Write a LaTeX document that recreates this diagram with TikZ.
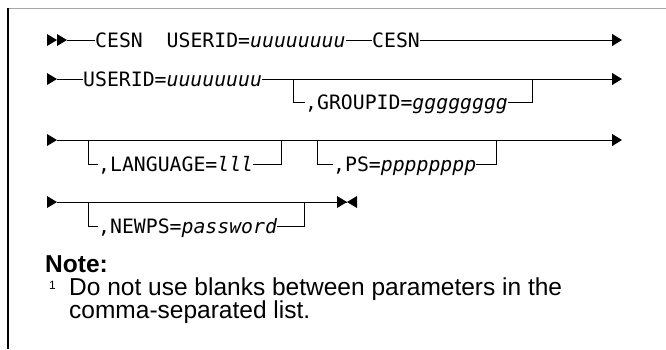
\documentclass[tikz,border=0pt]{standalone}
\usepackage{fontspec}
\setmonofont{DejaVu Sans Mono}[ItalicFont={DejaVu Sans Mono Oblique}]
\setsansfont{Liberation Sans}
\usetikzlibrary{arrows.meta}

\begin{document}
\begin{tikzpicture}[x=1pt,y=-1pt,
  rail/.style={line width=0.9pt},
  endtip/.style={-{Triangle[length=10pt,width=12pt]}},
  tok/.style={font=\ttfamily\fontsize{19.8}{22}\selectfont,inner sep=0pt,anchor=west,text height=14.4pt,text depth=0pt},
  notehead/.style={font=\sffamily\bfseries\fontsize{24.5}{27}\selectfont,inner sep=0pt,anchor=base west},
  notetxt/.style={font=\sffamily\fontsize{24.5}{27}\selectfont,inner sep=0pt,anchor=base west},
  pics/fwd/.style={code={\fill (-10,-6) -- (0,0) -- (-10,6) -- cycle;}},
  pics/bwd/.style={code={\fill (10,-6) -- (0,0) -- (10,6) -- cycle;}}]
  \useasboundingbox (0,0) rectangle (666,349);
  % frame
  \draw[gray!70,line width=1pt] (8,8) -- (666,8);
  \draw[line width=1.6pt] (8,8) -- (8,349);

  % row 1
  \coordinate (r1s) at (67,40);
  \coordinate (r1e) at (622,40);
  \pic at (57,40) {fwd};
  \pic at (r1s) {fwd};
  \node[tok] (cesn) at (95,40) {CESN\ \ USERID=\textit{uuuuuuuu}};
  \node[tok] (cesn2) at (372,40) {CESN};
  \draw[rail] (r1s) -- (cesn);
  \draw[rail] (cesn) -- (cesn2);
  \draw[rail,endtip] (cesn2) -- (r1e);

  % row 2
  \coordinate (r2s) at (57,79);
  \coordinate (r2e) at (622,79);
  \pic at (r2s) {fwd};
  \node[tok] (uid) at (83,79) {USERID=\textit{uuuuuuuu}};
  \draw[rail] (r2s) -- (uid);
  \draw[rail,endtip] (uid) -- (r2e);
  \coordinate (g1) at (293,79);
  \coordinate (g2) at (532,79);
  \node[tok] (grp) at (305,102) {,GROUPID=\textit{gggggggg}};
  \draw[rail] (g1) |- (grp);
  \draw[rail] (grp) -| (g2);

  % row 3
  \coordinate (r3s) at (57,140);
  \coordinate (r3e) at (622,140);
  \pic at (r3s) {fwd};
  \draw[rail,endtip] (r3s) -- (r3e);
  \coordinate (l1) at (88,140);
  \coordinate (l2) at (281,140);
  \node[tok] (lang) at (98,164) {,LANGUAGE=\textit{lll}};
  \draw[rail] (l1) |- (lang);
  \draw[rail] (lang) -| (l2);
  \coordinate (p1) at (317,140);
  \coordinate (p2) at (496,140);
  \node[tok] (ps) at (333,164) {,PS=\textit{pppppppp}};
  \draw[rail] (p1) |- (ps);
  \draw[rail] (ps) -| (p2);

  % row 4
  \coordinate (r4s) at (57,202);
  \coordinate (r4e) at (347,202);
  \pic at (r4s) {fwd};
  \draw[rail] (r4s) -- (r4e);
  \pic at (r4e) {fwd};
  \pic at (r4e) {bwd};
  \coordinate (n1) at (88,202);
  \coordinate (n2) at (304,202);
  \node[tok] (newps) at (98,226) {,NEWPS=\textit{password}};
  \draw[rail] (n1) |- (newps);
  \draw[rail] (newps) -| (n2);

  % note
  \node[notehead] (note) at (45,272) {Note:};
  \node[notetxt,font=\sffamily\fontsize{12}{14}\selectfont] (fn) at (49,289) {1};
  \node[notetxt] (ln1) at (69,295) {Do not use blanks between parameters in the};
  \node[notetxt] (ln2) at (69,318) {comma-separated list.};
\end{tikzpicture}
\end{document}
